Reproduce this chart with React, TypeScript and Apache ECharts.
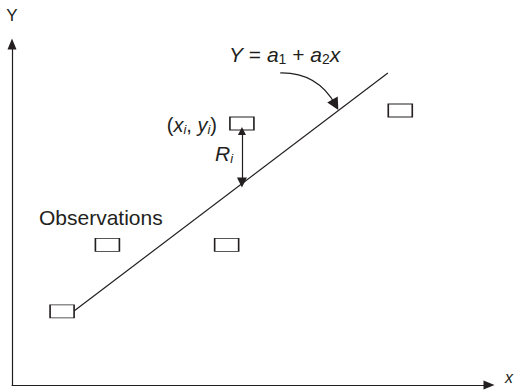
import React, { useEffect, useRef } from 'react';
import * as echarts from 'echarts';

// Observation boxes (data units, axis range 0..100)
const observationX = [10.5, 20.0, 45.0, 48.2, 81.4];
const observationY = [21.6, 41.1, 41.1, 76.7, 80.5];
// Fitted line Y = a1 + a2 x (end points)
const fitX = [13.0, 78.8];
const fitY = [21.7, 91.5];
// Residual R_i from observation (x_i, y_i) down to the fitted line
const residualX = [48.2, 48.2];
const residualY = [74.5, 59.4];
// Curved pointer from the equation to the line
const pointerX = [56.2, 67.8];
const pointerY = [91.5, 82.2];

const axisMin = 0;
const axisMax = 100;

export default function App() {
  const ref = useRef<HTMLDivElement>(null);
  useEffect(() => {
    document.body.style.margin = '0';
    const chart = echarts.init(ref.current!, null, { renderer: 'svg' });
    const font = '"Liberation Sans", Arial, Helvetica, sans-serif';
    const ink = '#231f20';
    const axisCommon = {
      type: 'value',
      min: axisMin,
      max: axisMax,
      nameLocation: 'end',
      axisLine: {
        show: true,
        onZero: false,
        symbol: ['none', 'triangle'],
        symbolSize: [9, 11],
        lineStyle: { color: ink, width: 1.2 },
      },
      axisTick: { show: false },
      axisLabel: { show: false },
      splitLine: { show: false },
    };
    chart.setOption({
      animation: false,
      grid: { left: 12, right: 27, top: 44, bottom: 6, containLabel: false, outerBoundsMode: 'none' },
      xAxis: {
        ...axisCommon,
        name: 'x',
        nameGap: 16,
        nameTextStyle: {
          fontFamily: font,
          fontStyle: 'italic',
          fontSize: 16,
          lineHeight: 16,
          verticalAlign: 'bottom',
          color: ink,
        },
      },
      yAxis: {
        ...axisCommon,
        name: 'Y',
        nameGap: 20,
        nameTextStyle: { fontFamily: font, fontSize: 17, color: ink },
      },
      series: [
        {
          type: 'line',
          data: fitX.map((x, i) => [x, fitY[i]]),
          symbol: 'none',
          showSymbol: false,
          lineStyle: { color: ink, width: 1.2 },
          z: 2,
        },
        {
          type: 'scatter',
          name: 'Observations',
          data: observationX.map((x, i) => [x, observationY[i]]),
          symbol: 'rect',
          symbolSize: [24, 13],
          itemStyle: { color: '#ffffff', borderColor: ink, borderWidth: 1.2, opacity: 1 },
          z: 3,
        },
        {
          type: 'lines',
          coordinateSystem: 'cartesian2d',
          symbol: ['triangle', 'triangle'],
          symbolSize: [8, 10],
          lineStyle: { color: ink, width: 1.2, opacity: 1, curveness: 0 },
          itemStyle: { color: ink },
          data: [{ coords: residualX.map((x, i) => [x, residualY[i]]) }],
          z: 4,
        },
        {
          type: 'lines',
          coordinateSystem: 'cartesian2d',
          symbol: ['none', 'triangle'],
          symbolSize: [9, 12],
          lineStyle: { color: ink, width: 1.2, opacity: 1, curveness: 0.3 },
          itemStyle: { color: ink },
          data: [{ coords: pointerX.map((x, i) => [x, pointerY[i]]) }],
          z: 4,
        },
      ],
      graphic: [
        {
          type: 'text',
          x: 39,
          y: 217,
          style: {
            text: 'Observations',
            font: `21px ${font}`,
            fill: ink,
            align: 'left',
            verticalAlign: 'middle',
          },
        },
        {
          type: 'text',
          x: 217,
          y: 125,
          style: {
            text: '{n|(}{i|x}{si|i}{n|, }{i|y}{si|i}{n|)}',
            font: `20px ${font}`,
            fill: ink,
            align: 'right',
            verticalAlign: 'middle',
            rich: {
              n: { fontFamily: font, fontSize: 20, fill: ink },
              i: { fontFamily: font, fontSize: 20, fontStyle: 'italic', fill: ink },
              si: { fontFamily: font, fontSize: 13, fontStyle: 'italic', fill: ink, padding: [9, 0, 0, 0] },
            },
          },
        },
        {
          type: 'text',
          x: 215,
          y: 153,
          style: {
            text: '{i|R}{si|i}',
            font: `21px ${font}`,
            fill: ink,
            align: 'left',
            verticalAlign: 'middle',
            rich: {
              i: { fontFamily: font, fontSize: 21, fontStyle: 'italic', fill: ink },
              si: { fontFamily: font, fontSize: 13, fontStyle: 'italic', fill: ink, padding: [10, 0, 0, 0] },
            },
          },
        },
        {
          type: 'text',
          x: 229,
          y: 54,
          style: {
            text: '{i|Y}{n| = }{i|a}{s|1}{n| + }{i|a}{s|2}{i|x}',
            font: `21px ${font}`,
            fill: ink,
            align: 'left',
            verticalAlign: 'middle',
            rich: {
              n: { fontFamily: font, fontSize: 21, fill: ink },
              i: { fontFamily: font, fontSize: 21, fontStyle: 'italic', fill: ink },
              s: { fontFamily: font, fontSize: 14, fill: ink, padding: [10, 0, 0, 0] },
            },
          },
        },
      ],
    });
    return () => chart.dispose();
  }, []);
  return <div ref={ref} style={{ width: 516, height: 391 }} />;
}
